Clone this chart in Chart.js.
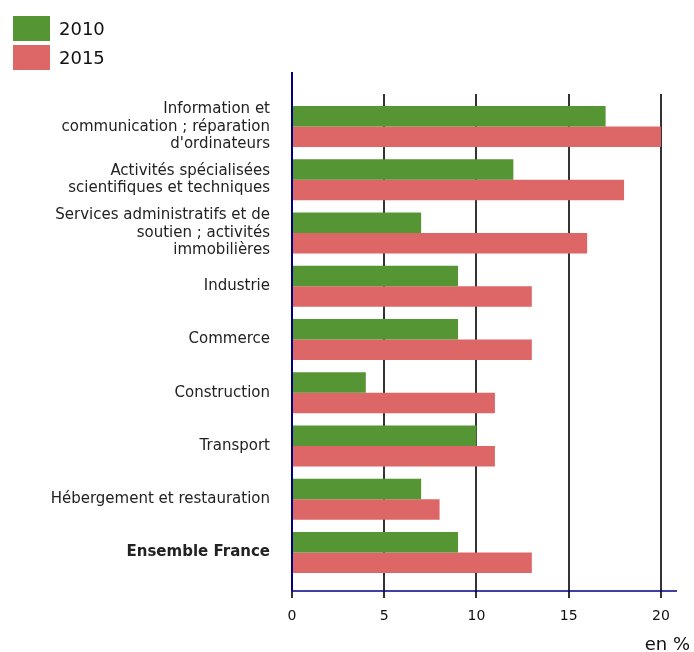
<!DOCTYPE html>
<html>
<head>
<meta charset="utf-8">
<script src="https://cdn.jsdelivr.net/npm/chart.js@4"></script>
<style>
  body { margin: 0; background: #fff; font-family: "DejaVu Sans", Verdana, sans-serif; }
  #wrap { position: relative; width: 694px; height: 652px; }
  #legend { position: absolute; left: 13px; top: 14px; }
  .item { display: flex; align-items: center; height: 29px; font-size: 18px; color: #111; }
  .box { width: 37px; height: 25px; margin-right: 9px; }
  #unit { position: absolute; right: 4px; top: 633px; font-size: 18px; color: #111; }
</style>
</head>
<body>
<div id="wrap">
  <canvas id="chart" width="694" height="652"></canvas>
  <div id="legend"></div>
  <div id="unit">en %</div>
</div>
<script>
const categories = [
    ["Information et", "communication ; réparation", "d'ordinateurs"],
    ["Activités spécialisées", "scientifiques et techniques"],
    ["Services administratifs et de", "soutien ; activités", "immobilières"],
    "Industrie",
    "Commerce",
    "Construction",
    "Transport",
    "Hébergement et restauration",
    "Ensemble France"
];
const values2010 = [17, 12, 7, 9, 9, 4, 10, 7, 9];
const values2015 = [20, 18, 16, 13, 13, 11, 11, 8, 13];
const xTicks = [0, 5, 10, 15, 20];

const green = "#559533";
const red = "#dd6666";

// vertical legend, as in the original
const legendEl = document.getElementById("legend");
[["2010", green], ["2015", red]].forEach(([label, color]) => {
    const row = document.createElement("div");
    row.className = "item";
    row.innerHTML = `<div class="box" style="background:${color}"></div>${label}`;
    legendEl.appendChild(row);
});

// axes and grid lines reach past the bar area
const axesPlugin = {
    id: "axesLines",
    beforeDatasetsDraw(chart) {
        const ctx = chart.ctx;
        const x = chart.scales.x;
        ctx.save();
        ctx.strokeStyle = "#333";
        ctx.lineWidth = 2;
        xTicks.slice(1).forEach(v => {
            const px = Math.round(x.getPixelForValue(v));
            ctx.beginPath();
            ctx.moveTo(px, 94);
            ctx.lineTo(px, 598);
            ctx.stroke();
        });
        const p0 = Math.round(x.getPixelForValue(0));
        ctx.beginPath();
        ctx.moveTo(p0, 591);
        ctx.lineTo(p0, 598);
        ctx.stroke();
        ctx.restore();
    },
    afterDatasetsDraw(chart) {
        const ctx = chart.ctx;
        const x = chart.scales.x;
        const p0 = x.getPixelForValue(0);
        ctx.save();
        ctx.strokeStyle = "#000080";
        ctx.lineWidth = 2;
        ctx.beginPath();
        ctx.moveTo(p0, 72);
        ctx.lineTo(p0, 591);
        ctx.stroke();
        ctx.lineWidth = 1.5;
        ctx.beginPath();
        ctx.moveTo(p0, 591);
        ctx.lineTo(chart.chartArea.right, 591);
        ctx.stroke();
        ctx.restore();
    }
};

const ctx = document.getElementById("chart").getContext("2d");
new Chart(ctx, {
    type: "bar",
    data: {
        labels: categories,
        datasets: [
            { label: "2010", data: values2010, backgroundColor: green },
            { label: "2015", data: values2015, backgroundColor: red }
        ]
    },
    options: {
        indexAxis: "y",
        responsive: false,
        animation: false,
        categoryPercentage: 0.77,
        barPercentage: 1,
        layout: { padding: { top: 100, right: 17, left: 0, bottom: 0 } },
        plugins: { legend: { display: false }, tooltip: { enabled: false } },
        scales: {
            x: {
                min: 0,
                max: 20.87,
                afterFit(scale) {
                    scale.height = 73;
                    scale.paddingLeft = 0;
                    scale.paddingRight = 0;
                },
                afterBuildTicks(scale) {
                    scale.ticks = xTicks.map(v => ({ value: v }));
                },
                grid: { display: false, drawTicks: false },
                border: { display: false },
                ticks: {
                    padding: 29,
                    color: "#111",
                    font: { family: "DejaVu Sans", size: 14 }
                }
            },
            y: {
                afterFit(scale) { scale.width = 292; },
                grid: { display: false, drawTicks: false },
                border: { display: false },
                ticks: {
                    autoSkip: false,
                    padding: 22,
                    color: "#222",
                    font: (c) => ({
                        family: "DejaVu Sans",
                        size: 15,
                        lineHeight: 1.17,
                        weight: c.index === 8 ? "bold" : "normal"
                    })
                }
            }
        }
    },
    plugins: [axesPlugin]
});
</script>
</body>
</html>
